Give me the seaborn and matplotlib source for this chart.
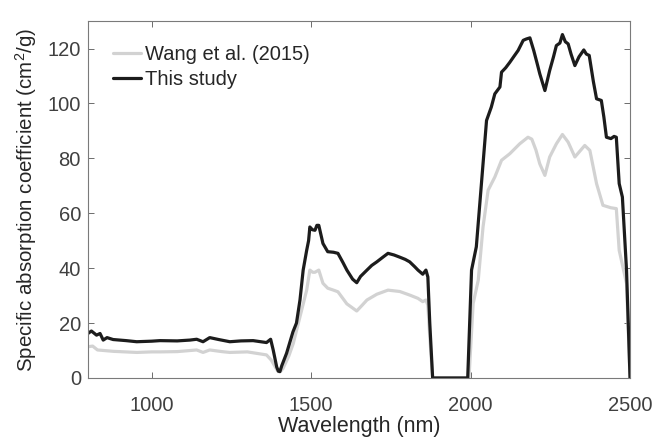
import numpy as np
import pandas as pd
import matplotlib.pyplot as plt
import seaborn as sns

# Dados (comprimento de onda em nm, coeficiente em cm2/g)
wl_wang = [800, 815, 830, 850, 880, 953, 1000, 1026, 1080, 1141, 1161, 1182, 1220, 1245,
           1300, 1360, 1375, 1390, 1397, 1405, 1412, 1430, 1444, 1465, 1486, 1496, 1505,
           1512, 1524, 1537, 1552, 1570, 1584, 1612, 1643, 1660, 1675, 1706, 1741, 1778,
           1809, 1835, 1850, 1860, 1866, 1872, 1881, 1995, 2008, 2024, 2039, 2055, 2076,
           2097, 2123, 2154, 2180, 2192, 2205, 2217, 2233, 2248, 2269, 2288, 2306, 2327,
           2358, 2374, 2395, 2415, 2440, 2457, 2466, 2489, 2500]
abs_wang = [11.4, 11.6, 10.2, 10.0, 9.7, 9.3, 9.5, 9.5, 9.6, 10.2, 9.3, 10.2, 9.6, 9.3,
            9.5, 8.4, 6.5, 3.5, 2.3, 2.5, 3.5, 8.0, 12.6, 22.3, 32.0, 39.3, 38.5,
            38.5, 39.3, 34.5, 32.7, 32.0, 31.4, 27.0, 24.4, 26.5, 28.4, 30.5, 32.0, 31.5,
            30.2, 29.0, 27.8, 28.4, 26.5, 15.0, 0.0, 0.0, 27.1, 35.6, 55.0, 68.4, 73.2,
            79.3, 81.7, 85.3, 87.7, 87.0, 83.0, 78.0, 73.8, 80.5, 85.3, 88.7, 85.9, 80.5,
            84.7, 82.9, 70.8, 62.9, 62.0, 61.7, 46.5, 34.4, 0.0]

wl_study = [800, 811, 827, 838, 848, 860, 879, 920, 953, 1000, 1026, 1080, 1120, 1141,
            1161, 1182, 1210, 1245, 1280, 1318, 1360, 1373, 1381, 1392, 1397, 1402, 1408,
            1423, 1443, 1454, 1465, 1475, 1486, 1492, 1496, 1504, 1512, 1518, 1524, 1537,
            1552, 1570, 1584, 1600, 1612, 1630, 1643, 1655, 1675, 1690, 1706, 1725, 1741,
            1760, 1778, 1795, 1809, 1825, 1835, 1850, 1860, 1866, 1872, 1881, 1991, 2003,
            2018, 2034, 2050, 2065, 2076, 2092, 2097, 2110, 2123, 2135, 2149, 2165, 2175,
            2186, 2198, 2210, 2217, 2233, 2248, 2260, 2269, 2280, 2288, 2297, 2306, 2315,
            2327, 2340, 2355, 2363, 2372, 2385, 2395, 2410, 2418, 2426, 2440, 2450, 2457,
            2466, 2476, 2489, 2500]
abs_study = [16.2, 17.1, 15.6, 16.2, 13.8, 14.7, 14.0, 13.6, 13.2, 13.4, 13.6, 13.5, 13.8, 14.1,
             13.2, 14.7, 14.0, 13.2, 13.5, 13.6, 12.9, 14.1, 10.2, 4.0, 2.5, 2.3, 4.5,
             9.0, 16.8, 20.0, 28.4, 39.3, 46.5, 50.0, 55.0, 54.0, 53.8, 55.6, 55.6, 49.0,
             46.0, 45.8, 45.4, 42.0, 39.3, 36.0, 34.7, 37.0, 39.3, 41.0, 42.3, 44.0, 45.4,
             44.8, 44.0, 43.2, 42.3, 40.5, 39.3, 37.8, 39.3, 36.8, 20.0, 0.0, 0.0, 39.3,
             47.8, 70.8, 93.8, 98.7, 103.5, 106.0, 111.4, 113.0, 115.0, 117.0, 119.3, 123.0, 123.5,
             123.9, 119.3, 114.0, 110.8, 104.7, 112.0, 117.0, 121.1, 122.0, 125.1, 122.5, 121.7, 118.0,
             113.8, 117.0, 119.5, 118.0, 117.5, 108.0, 101.7, 101.1, 95.0, 87.7, 87.2, 88.0, 87.7,
             70.8, 65.9, 39.3, 0.0]

series_names = ['Wang et al. (2015)', 'This study']
series_colors = ['#d2d2d2', '#1c1c1c']

df = pd.concat([
    pd.DataFrame({'Wavelength': wl_wang, 'Abs': abs_wang, 'Fonte': series_names[0]}),
    pd.DataFrame({'Wavelength': wl_study, 'Abs': abs_study, 'Fonte': series_names[1]}),
])

# Estilo parecido com o MATLAB
sns.set_style("white")
plt.rcParams['font.family'] = ['Liberation Sans', 'DejaVu Sans']
plt.rcParams['mathtext.fontset'] = 'custom'
plt.rcParams['mathtext.rm'] = 'Liberation Sans'
plt.rcParams['mathtext.it'] = 'Liberation Sans:italic'

fig = plt.figure(figsize=(6.66, 4.4), dpi=100)
ax = fig.add_axes([0.132, 0.141, 0.814, 0.811])

sns.lineplot(data=df, x='Wavelength', y='Abs', hue='Fonte', hue_order=series_names,
             palette=series_colors, linewidth=2.3, estimator=None, ax=ax)

ax.set_xlim(800, 2500)
ax.set_ylim(0, 130)
ax.set_xticks([1000, 1500, 2000, 2500])
ax.set_yticks([0, 20, 40, 60, 80, 100, 120])
ax.set_xlabel('Wavelength (nm)', fontsize=15.5, color='#262626', labelpad=1)
ax.set_ylabel('Specific absorption coefficient (cm$^2$/g)', fontsize=14.8, color='#262626', labelpad=6)
ax.tick_params(direction='in', length=4, width=0.6, color='#555555', labelsize=14.5,
               labelcolor='#404040', top=True, right=True, bottom=True, left=True)
ax.tick_params(axis='x', pad=13)
ax.tick_params(axis='y', pad=5)
for s in ax.spines.values():
    s.set_color('#7a7a7a')
    s.set_linewidth(0.8)

leg = ax.legend(loc='upper left', bbox_to_anchor=(0.012, 0.985), frameon=False, fontsize=14.5,
                handlelength=1.4, handletextpad=0.2, labelspacing=0.3)
for line in leg.get_lines():
    line.set_linewidth(2.3)

fig.savefig('out.png', dpi=100)
